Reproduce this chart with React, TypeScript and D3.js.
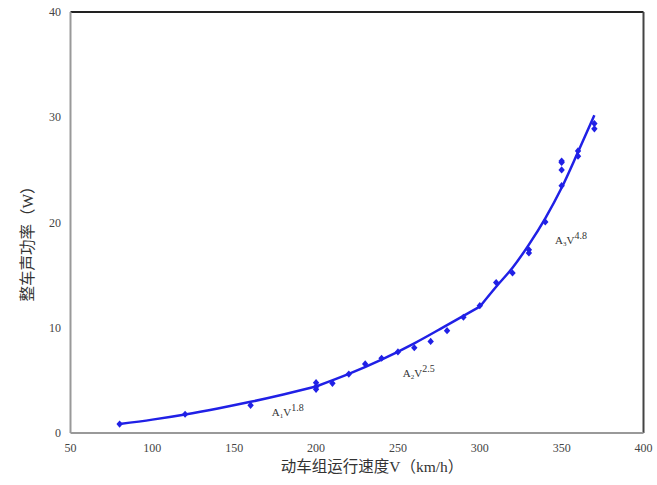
import React from "react";
import * as d3 from "d3";

// measured points (speed km/h, sound power W)
const pointSpeed = [80, 120, 160, 200, 200, 200, 210, 220, 230, 240, 250, 260, 270, 280, 290, 300, 310, 320, 330, 330, 340, 350, 350, 350, 350, 360, 360, 370, 370];
const pointPower = [0.85, 1.78, 2.63, 4.78, 4.4, 4.15, 4.72, 5.6, 6.56, 7.1, 7.7, 8.1, 8.7, 9.72, 11.0, 12.1, 14.3, 15.2, 17.4, 17.1, 20.05, 25.84, 25.7, 25.0, 23.5, 26.8, 26.3, 29.4, 28.9];

// fitted curve segments
const fit1Speed = [80, 100, 120, 140, 160, 180, 200];
const fit1Power = [0.85, 1.27, 1.76, 2.33, 2.96, 3.66, 4.42];
const fit2Speed = [200, 220, 240, 260, 280, 300];
const fit2Power = [4.42, 5.61, 6.97, 8.52, 10.25, 12.0];
const fit3Speed = [300, 310, 320, 330, 340, 350, 360, 370];
const fit3Power = [12.0, 13.9, 15.7, 17.9, 20.4, 23.3, 26.7, 30.2];

const xTicks = [50, 100, 150, 200, 250, 300, 350, 400];
const yTicks = [0, 10, 20, 30, 40];

const fitLabels = [
  { sub: "1", exp: "1.8", v: 173, p: 1.6 },
  { sub: "2", exp: "2.5", v: 253, p: 5.3 },
  { sub: "3", exp: "4.8", v: 346, p: 18.0 },
];

const BLUE = "#2020e6";
const SERIF = "'Liberation Serif', 'Times New Roman', serif";
const CJK = "'Liberation Serif', 'Noto Sans CJK SC', serif";

export default function App() {
  const W = 657, H = 485;
  const left = 70.5, right = 643.5, top = 12, bottom = 433;
  const x = d3.scaleLinear().domain([50, 400]).range([left, right]);
  const y = d3.scaleLinear().domain([0, 40]).range([bottom, top]);

  const line = d3
    .line<[number, number]>()
    .x((d) => x(d[0]))
    .y((d) => y(d[1]))
    .curve(d3.curveMonotoneX);

  const seg = (s: number[], p: number[]) => line(s.map((v, i) => [v, p[i]] as [number, number])) || "";

  const diamond = "M0,-3.6L3.2,0L0,3.6L-3.2,0Z";

  return (
    <svg width={W} height={H} style={{ position: "absolute", left: 0, top: 0, background: "#fff" }}>
      <rect x={0} y={0} width={W} height={H} fill="#fff" />
      {/* frame */}
      <line x1={left} y1={top} x2={right} y2={top} stroke="#222" strokeWidth={2} />
      <line x1={right} y1={top} x2={right} y2={bottom} stroke="#444" strokeWidth={2} />
      <line x1={left} y1={top} x2={left} y2={bottom} stroke="#999" strokeWidth={2} />
      <line x1={left} y1={bottom} x2={right} y2={bottom} stroke="#999" strokeWidth={2} />

      {/* ticks labels */}
      {xTicks.map((t) => (
        <text key={"x" + t} x={x(t)} y={452} textAnchor="middle" fontFamily={SERIF} fontSize={12} fill="#444">
          {t}
        </text>
      ))}
      {yTicks.map((t) => (
        <text key={"y" + t} x={61} y={y(t) + 4} textAnchor="end" fontFamily={SERIF} fontSize={12} fill="#444">
          {t}
        </text>
      ))}

      {/* axis titles */}
      <text x={372} y={472} textAnchor="middle" fontFamily={CJK} fontSize={15.5} fill="#333">
        动车组运行速度V（km/h）
      </text>
      <text
        transform={`translate(33,240) rotate(-90)`}
        textAnchor="middle"
        fontFamily={CJK}
        fontSize={15.5}
        fill="#333"
      >
        整车声功率（W）
      </text>

      {/* fitted curves */}
      {[
        seg(fit1Speed, fit1Power),
        seg(fit2Speed, fit2Power),
        seg(fit3Speed, fit3Power),
      ].map((d, i) => (
        <path key={"f" + i} d={d} fill="none" stroke={BLUE} strokeWidth={2.5} strokeLinejoin="round" />
      ))}

      {/* measured points */}
      {pointSpeed.map((v, i) => (
        <path key={"p" + i} d={diamond} transform={`translate(${x(v)},${y(pointPower[i])})`} fill={BLUE} />
      ))}

      {/* curve labels */}
      {fitLabels.map((l, i) => (
        <text key={"l" + i} x={x(l.v)} y={y(l.p)} fontFamily={SERIF} fontSize={11} fill="#333">
          A
          <tspan fontSize={7} dy={2}>{l.sub}</tspan>
          <tspan fontSize={11} dy={-2}>V</tspan>
          <tspan fontSize={10} dy={-5}>{l.exp}</tspan>
        </text>
      ))}
    </svg>
  );
}
